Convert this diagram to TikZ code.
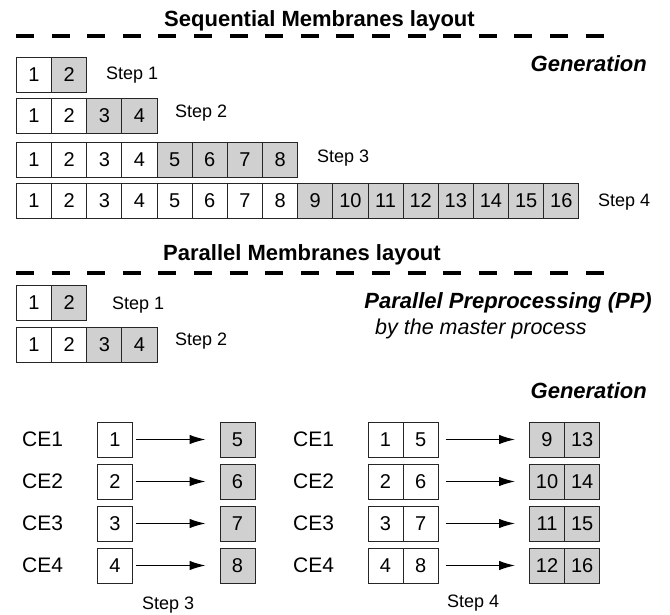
\documentclass[tikz,border=0pt]{standalone}
\usepackage{fontspec}
\setmainfont{Liberation Sans}
\usetikzlibrary{positioning,arrows.meta}
\definecolor{cellgray}{HTML}{D0D0D0}

\tikzset{
  cell/.style={draw=black!85, line width=0.9pt, minimum width=35.15pt, minimum height=35pt,
    inner sep=0pt, anchor=west, font=\fontsize{20}{20}\selectfont},
  newcell/.style={cell, fill=cellgray},
  steplabel/.style={anchor=base west, inner sep=0pt, font=\fontsize{18}{18}\selectfont},
  celabel/.style={anchor=west, inner sep=0pt, font=\fontsize{21}{21}\selectfont},
  heading/.style={anchor=base, inner sep=0pt, font=\fontsize{22}{22}\selectfont\bfseries},
  phase/.style={anchor=base east, inner sep=0pt, font=\fontsize{22}{22}\selectfont\bfseries\itshape},
  separator/.style={line width=4pt, dash pattern=on 18pt off 17.6pt},
  flow/.style={-{Latex[length=16pt,width=9.5pt]}, line width=1.2pt, shorten >=14pt, shorten <=3pt}
}

\begin{document}
\begin{tikzpicture}[x=1pt, y=-1pt]
  \useasboundingbox (0,0) rectangle (670,615);

  % sequential layout
  \node[heading] (seqtitle) at (319.5,27) {Sequential Membranes layout};
  \draw[separator] (16,36) -- (604,36);
  \node[phase] (seqgen) at (647,72) {Generation};

  \node[cell] (s1c1) at (16,74.5) {1};
  \node[newcell] (s1c2) at (51.15,74.5) {2};
  \node[steplabel] (s1lab) at (106,79.5) {Step 1};

  \foreach \i in {1,2} \node[cell] (s2c\i) at ({16+(\i-1)*35.15},116) {\i};
  \foreach \i in {3,4} \node[newcell] (s2c\i) at ({16+(\i-1)*35.15},116) {\i};
  \node[steplabel] (s2lab) at (175,117.5) {Step 2};

  \foreach \i in {1,...,4} \node[cell] (s3c\i) at ({16+(\i-1)*35.15},159.5) {\i};
  \foreach \i in {5,...,8} \node[newcell] (s3c\i) at ({16+(\i-1)*35.15},159.5) {\i};
  \node[steplabel] (s3lab) at (317,162.5) {Step 3};

  \foreach \i in {1,...,8} \node[cell] (s4c\i) at ({16+(\i-1)*35.15},200.5) {\i};
  \foreach \i in {9,...,16} \node[newcell] (s4c\i) at ({16+(\i-1)*35.15},200.5) {\i};
  \node[steplabel] (s4lab) at (598,206.5) {Step 4};

  % parallel layout
  \node[heading] (partitle) at (302,261) {Parallel Membranes layout};
  \draw[separator] (16,272.5) -- (604,272.5);

  \node[cell] (p1c1) at (16,302.5) {1};
  \node[newcell] (p1c2) at (51.15,302.5) {2};
  \node[steplabel] (p1lab) at (112,309) {Step 1};

  \foreach \i in {1,2} \node[cell] (p2c\i) at ({16+(\i-1)*35.15},345) {\i};
  \foreach \i in {3,4} \node[newcell] (p2c\i) at ({16+(\i-1)*35.15},345) {\i};
  \node[steplabel] (p2lab) at (175,345.5) {Step 2};

  \node[phase] (pp) at (652,308) {Parallel Preprocessing (PP)};
  \node[anchor=base west, inner sep=0pt, font=\fontsize{21.5}{22}\selectfont\itshape] (master) at (375,334) {by the master process};
  \node[phase] (pargen) at (647,398) {Generation};

  % one row per computing element
  \foreach \k/\y in {1/439.5,2/481.5,3/523.5,4/565.5} {
    \pgfmathtruncatemacro{\m}{\k+4}
    \pgfmathtruncatemacro{\p}{\k+8}
    \pgfmathtruncatemacro{\q}{\k+12}
    \node[celabel] (ceA\k) at (22,\y) {CE\k};
    \node[cell] (a\k) at (97,\y) {\k};
    \node[newcell] (b\k) at (219.5,\y) {\m};
    \draw[flow] (a\k.east) -- (b\k.west);
    \node[celabel] (ceB\k) at (293,\y) {CE\k};
    \node[cell] (c\k) at (367.5,\y) {\k};
    \node[cell] (d\k) at (402.65,\y) {\m};
    \node[newcell] (e\k) at (529,\y) {\p};
    \node[newcell] (f\k) at (564.15,\y) {\q};
    \draw[flow, shorten <=7pt] (d\k.east) -- (e\k.west);
  }
  \node[steplabel] (plab3) at (142,609.5) {Step 3};
  \node[steplabel] (plab4) at (447,607.5) {Step 4};
\end{tikzpicture}
\end{document}
